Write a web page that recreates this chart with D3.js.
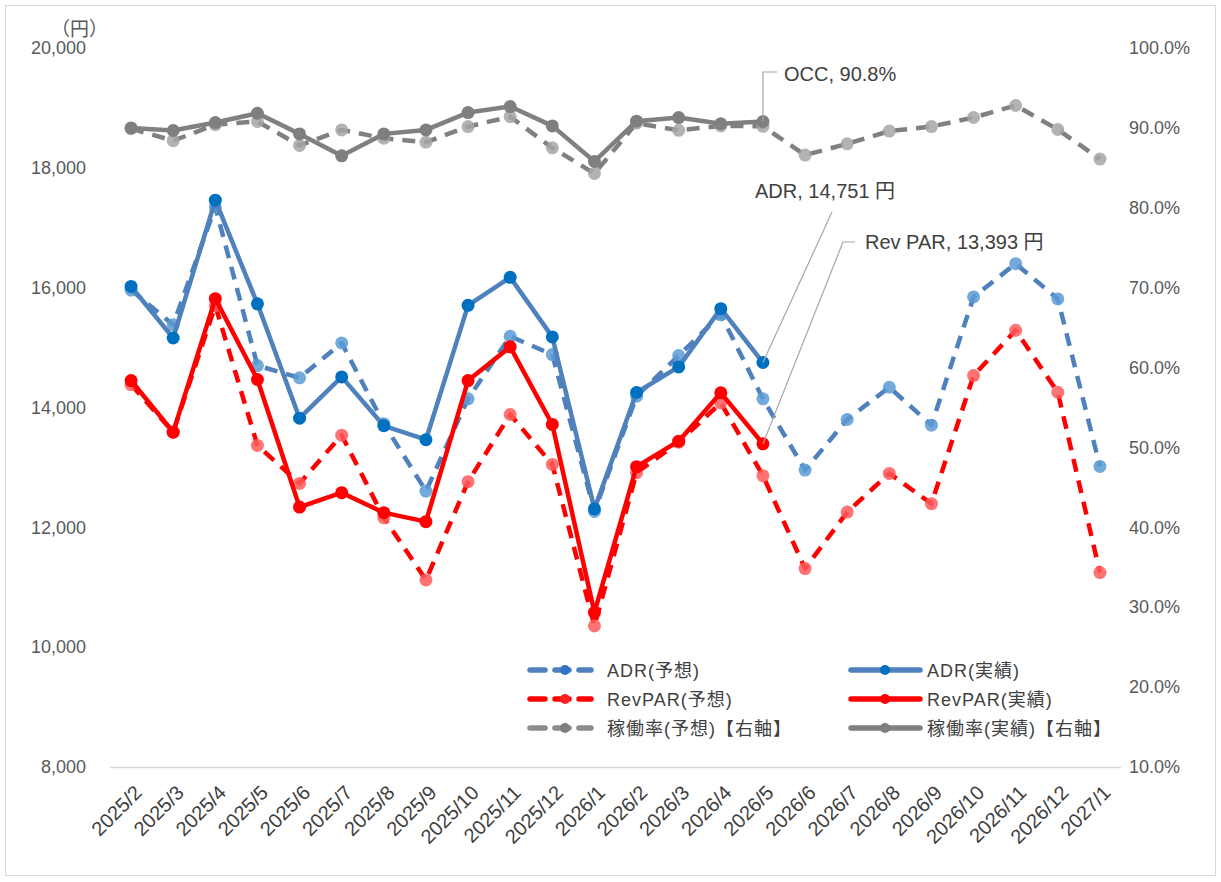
<!DOCTYPE html>
<html>
<head>
<meta charset="utf-8">
<script src="https://cdn.jsdelivr.net/npm/d3@7"></script>
<style>
  body { margin: 0; background: #fff; }
  text { font-family: "Liberation Sans", "Noto Sans CJK JP", sans-serif; }
</style>
</head>
<body>
<div class="chart"></div>
<script>
let width = 1221;
let height = 882;

let months = ['2025/2','2025/3','2025/4','2025/5','2025/6','2025/7','2025/8','2025/9','2025/10','2025/11','2025/12',
  '2026/1','2026/2','2026/3','2026/4','2026/5','2026/6','2026/7','2026/8','2026/9','2026/10','2026/11','2026/12','2027/1'];

// ADR (円)
let adrPlan = [15960, 15380, 17350, 14700, 14495, 15078, 13730, 12605, 14145, 15188, 14883, 12265,
  14188, 14867, 15550, 14145, 12955, 13800, 14338, 13705, 15845, 16400, 15812, 13017];
let adrActual = [16020, 15160, 17460, 15730, 13822, 14511, 13695, 13462, 15705, 16172, 15178, 12308,
  14250, 14678, 15650, 14751];

// RevPAR (円)
let revPlan = [14383, 13590, 15700, 13367, 12733, 13538, 12162, 11122, 12762, 13883, 13050, 10355,
  12912, 13422, 14078, 12862, 11312, 12255, 12900, 12395, 14533, 15288, 14255, 11245];
let revActual = [14450, 13588, 15817, 14467, 12338, 12578, 12245, 12095, 14450, 15012, 13717, 10580,
  13012, 13438, 14245, 13393];

// 稼働率 (%)
let occPlan = [89.9, 88.4, 90.4, 90.8, 87.8, 89.75, 88.7, 88.2, 90.17, 91.4, 87.5, 84.3,
  90.6, 89.7, 90.25, 90.2, 86.6, 88.0, 89.6, 90.17, 91.3, 92.8, 89.8, 86.1];
let occActual = [90.0, 89.67, 90.67, 91.83, 89.25, 86.5, 89.25, 89.75, 91.92, 92.67, 90.25, 85.8,
  90.84, 91.29, 90.52, 90.8];

let leftTicks = [8000, 10000, 12000, 14000, 16000, 18000, 20000];
let rightTicks = [10, 20, 30, 40, 50, 60, 70, 80, 90, 100];

let legendItems = [
  {label: 'ADR(予想)', color: '#4F81BD', marker: '#2E75C6', dash: true},
  {label: 'ADR(実績)', color: '#4F81BD', marker: '#0070C0', dash: false},
  {label: 'RevPAR(予想)', color: '#FF0000', marker: '#FF2020', dash: true},
  {label: 'RevPAR(実績)', color: '#FF0000', marker: '#FF0000', dash: false},
  {label: '稼働率(予想)【右軸】', color: '#8C8C8C', marker: '#7F7F7F', dash: true},
  {label: '稼働率(実績)【右軸】', color: '#808080', marker: '#7F7F7F', dash: false}
];

let svg = d3.select('.chart')
  .append('svg')
  .attr('width', width)
  .attr('height', height);

svg.append('rect')
  .attr('x', 5.5).attr('y', 5.5)
  .attr('width', 1210).attr('height', 870)
  .attr('fill', '#fff')
  .attr('stroke', '#d9d9d9');

let xScale = d3.scaleBand()
  .domain(months)
  .range([110, 1121]);
let yLeft = d3.scaleLinear()
  .domain([8000, 20000])
  .range([767, 48]);
let yRight = d3.scaleLinear()
  .domain([10, 100])
  .range([767, 48]);

let cx = d => xScale(d) + xScale.bandwidth() / 2;

// bottom line
svg.append('line')
  .attr('x1', 110).attr('x2', 1121)
  .attr('y1', 767.5).attr('y2', 767.5)
  .attr('stroke', '#d9d9d9')
  .attr('stroke-width', 1.5);

// left axis
let leftAxis = d3.axisLeft(yLeft)
  .tickValues(leftTicks)
  .tickSize(0)
  .tickPadding(0)
  .tickFormat(d3.format(','));
let gl = svg.append('g')
  .attr('transform', 'translate(86,0)')
  .call(leftAxis);
gl.select('.domain').remove();
gl.selectAll('text')
  .style('font-size', '18px')
  .attr('fill', '#595959');

svg.append('text')
  .attr('x', 51).attr('y', 36)
  .style('font-size', '19px')
  .attr('fill', '#595959')
  .text('（円）');

// right axis
let rightAxis = d3.axisRight(yRight)
  .tickValues(rightTicks)
  .tickSize(0)
  .tickPadding(0)
  .tickFormat(d => d3.format('.1f')(d) + '%');
let gr = svg.append('g')
  .attr('transform', 'translate(1129,0)')
  .call(rightAxis);
gr.select('.domain').remove();
gr.selectAll('text')
  .style('font-size', '18px')
  .attr('fill', '#595959');

// x axis labels
let xAxis = d3.axisBottom(xScale).tickSize(0).tickPadding(0);
let gx = svg.append('g')
  .attr('transform', 'translate(0,778)')
  .call(xAxis);
gx.select('.domain').remove();
gx.selectAll('text')
  .style('font-size', '20px')
  .style('text-anchor', 'end')
  .attr('fill', '#404040')
  .attr('y', 0)
  .attr('dy', 0)
  .attr('transform', 'translate(12,16) rotate(-45)');

function drawSeries(values, scale, color, markerColor, dash, markerOpacity) {
  let pts = values.map((v, i) => [cx(months[i]), scale(v)]);
  let line = d3.line();
  svg.append('path')
    .attr('d', line(pts))
    .attr('fill', 'none')
    .attr('stroke', color)
    .attr('stroke-width', 4.5)
    .attr('stroke-linejoin', 'round')
    .attr('stroke-dasharray', dash ? '13,9' : null);
  svg.append('g')
    .selectAll('circle')
    .data(pts)
    .enter()
    .append('circle')
    .attr('cx', d => d[0])
    .attr('cy', d => d[1])
    .attr('r', 6.5)
    .attr('fill', markerColor)
    .attr('fill-opacity', markerOpacity);
}

// forecasts first
drawSeries(occPlan, yRight, '#808080', '#A6A6A6', true, 0.85);
drawSeries(adrPlan, yLeft, '#4F81BD', '#5B9BD5', true, 0.85);
drawSeries(revPlan, yLeft, '#FF0000', '#FF5B5B', true, 0.85);
// actuals
drawSeries(occActual, yRight, '#808080', '#7F7F7F', false, 1);
drawSeries(adrActual, yLeft, '#4F81BD', '#0070C0', false, 1);
drawSeries(revActual, yLeft, '#FF0000', '#FF0000', false, 1);

// data callouts
let last = adrActual.length - 1;
let lx = cx(months[last]);
let callouts = [
  {text: 'OCC, 90.8%', pts: [[lx, yRight(occActual[last])], [lx, 72], [777, 72]], tx: 784, ty: 81},
  {text: 'ADR, 14,751 円', pts: [[lx, yLeft(adrActual[last])], [832, 212]], tx: 755, ty: 198},
  {text: 'Rev PAR, 13,393 円', pts: [[lx, yLeft(revActual[last])], [843, 242], [855, 242]], tx: 865, ty: 249}
];
callouts.forEach(c => {
  svg.append('path')
    .attr('d', d3.line()(c.pts))
    .attr('fill', 'none')
    .attr('stroke', '#a6a6a6')
    .attr('stroke-width', 1.2);
  svg.append('text')
    .attr('x', c.tx).attr('y', c.ty)
    .style('font-size', '20px')
    .attr('fill', '#404040')
    .text(c.text);
});

// legend
let legend = svg.append('g').attr('id', 'legend');
legendItems.forEach((d, i) => {
  let col = i % 2, row = Math.floor(i / 2);
  let x0 = col === 0 ? 528 : 849;
  let y0 = 670 + row * 29;
  let g = legend.append('g').attr('transform', 'translate(' + x0 + ',' + y0 + ')');
  if (d.dash) {
    [[2, 17], [27, 41], [51, 63]].forEach(s => {
      g.append('line')
        .attr('x1', s[0]).attr('x2', s[1])
        .attr('y1', 0).attr('y2', 0)
        .attr('stroke', d.color)
        .attr('stroke-width', 5.5)
        .attr('stroke-linecap', 'round');
    });
    g.append('circle').attr('cx', 37).attr('cy', 0).attr('r', 5).attr('fill', d.marker);
    g.append('text')
      .attr('x', 79).attr('y', 6.5)
      .style('font-size', '18px')
      .style('letter-spacing', '1px')
      .attr('fill', '#404040')
      .text(d.label);
  } else {
    g.append('line')
      .attr('x1', 2).attr('x2', 71)
      .attr('y1', 0).attr('y2', 0)
      .attr('stroke', d.color)
      .attr('stroke-width', 5.5)
      .attr('stroke-linecap', 'round');
    g.append('circle').attr('cx', 36).attr('cy', 0).attr('r', 5).attr('fill', d.marker);
    g.append('text')
      .attr('x', 78).attr('y', 6.5)
      .style('font-size', '18px')
      .style('letter-spacing', '1px')
      .attr('fill', '#404040')
      .text(d.label);
  }
});
</script>
</body>
</html>
